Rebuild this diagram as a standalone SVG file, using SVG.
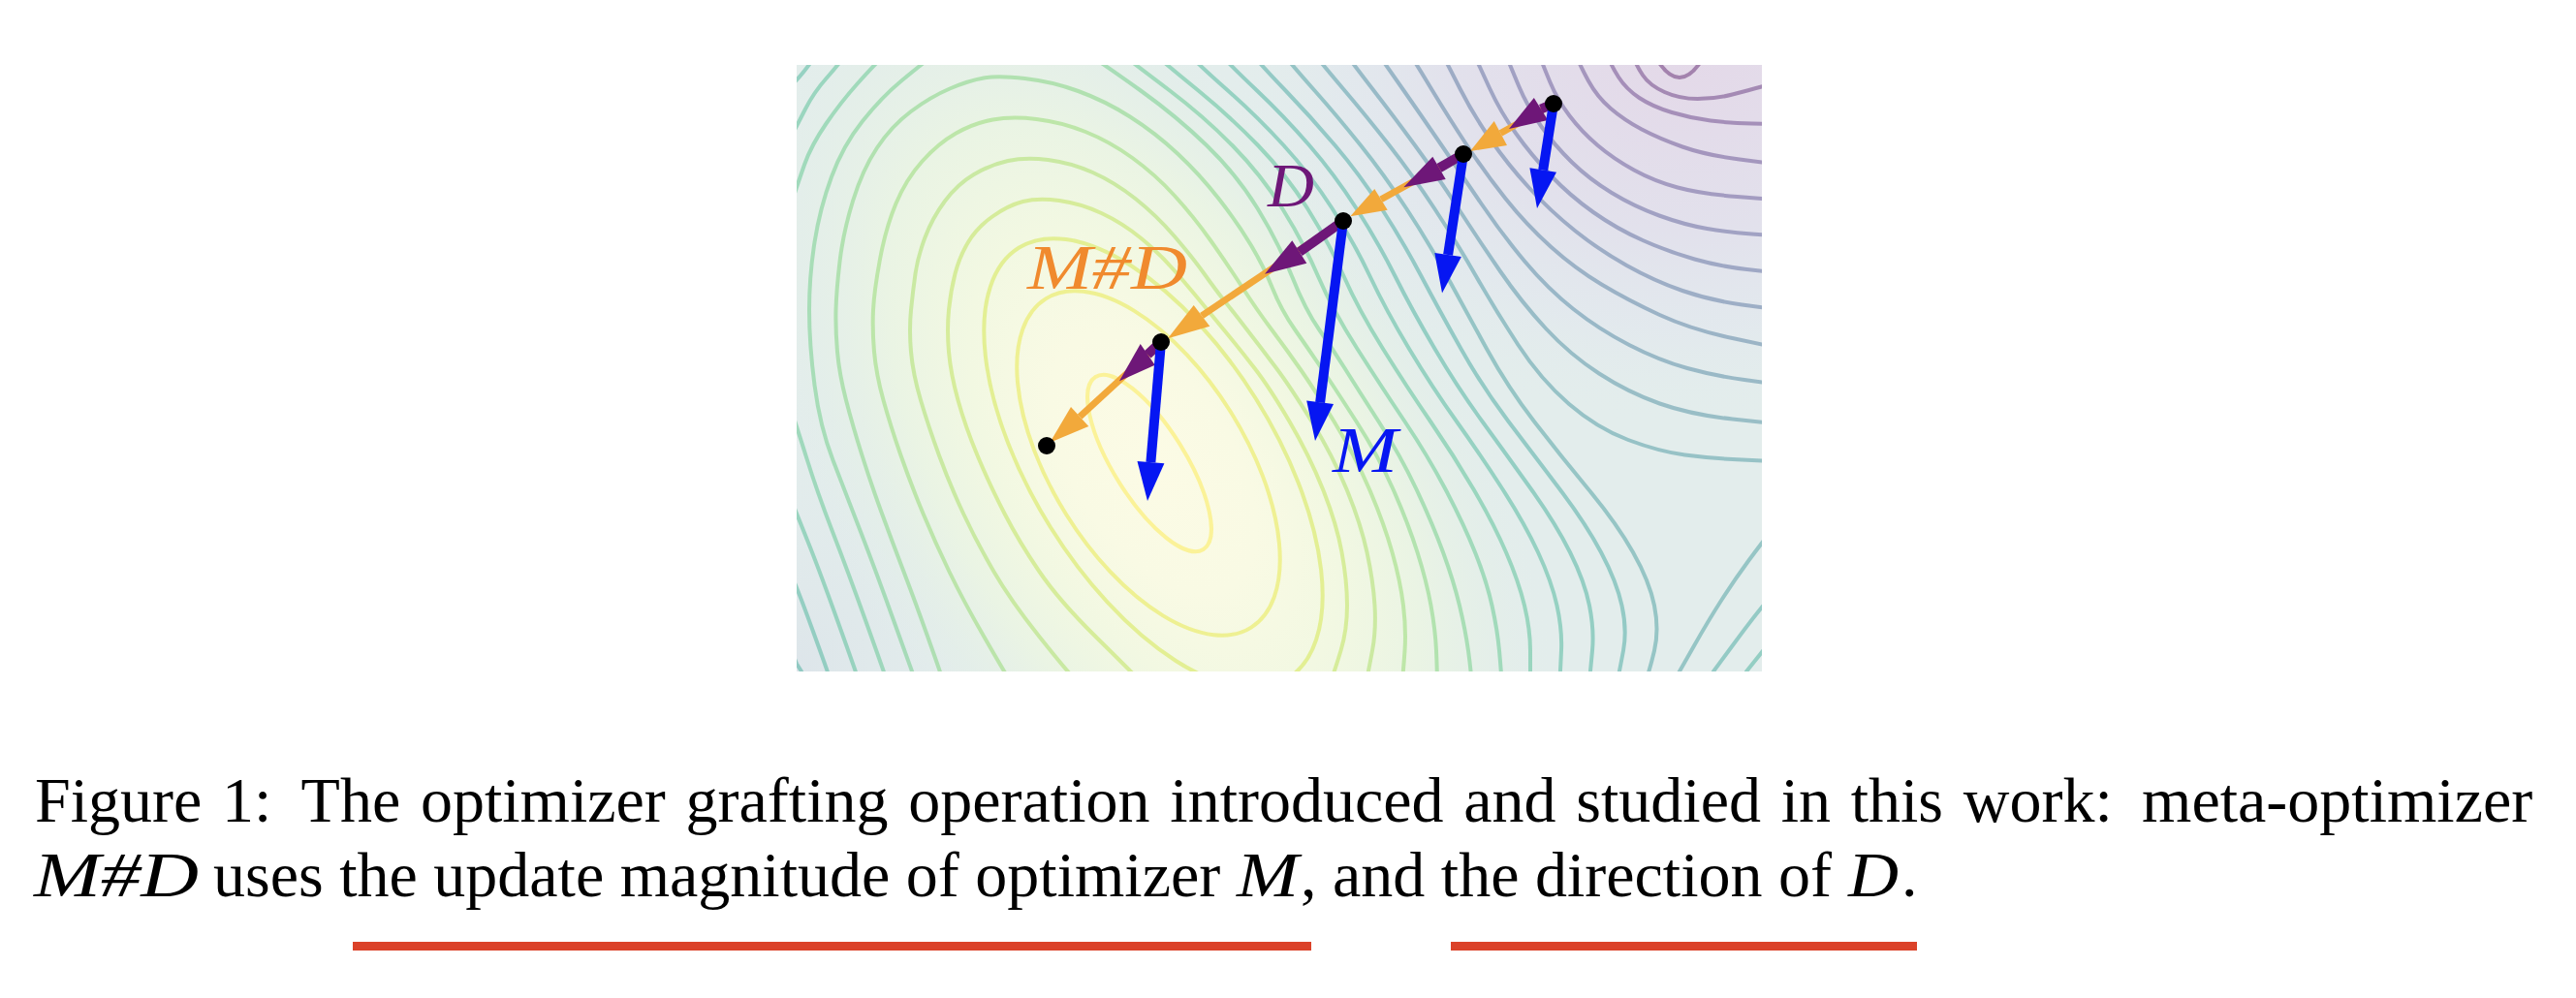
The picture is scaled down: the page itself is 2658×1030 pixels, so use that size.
<svg xmlns="http://www.w3.org/2000/svg" width="2658" height="1030" viewBox="0 0 2658 1030">
<style>
.cap{font-family:"Liberation Serif","Times New Roman",serif;font-size:66px;fill:#000}
.it{font-style:italic}
.c{fill:none;stroke-width:4;stroke-opacity:.4;stroke-linejoin:round;stroke-linecap:round}
.k1{stroke:#fde725}.k2{stroke:#e4e419}.k3{stroke:#cae11f}.k4{stroke:#b0dd2f}.k5{stroke:#95d840}.k6{stroke:#7ad151}.k7{stroke:#62ca5f}.k8{stroke:#4ec36b}.k9{stroke:#3bbb75}.k10{stroke:#2db27d}.k11{stroke:#22a884}.k12{stroke:#1fa088}.k13{stroke:#1f968b}.k14{stroke:#238a8d}.k15{stroke:#26828e}.k16{stroke:#2a788e}.k17{stroke:#2e6d8e}.k18{stroke:#33638d}.k19{stroke:#38598c}.k20{stroke:#3d4e8a}.k21{stroke:#414487}.k22{stroke:#453882}.k23{stroke:#472d7b}.k24{stroke:#481f70}.k25{stroke:#471164}.k26{stroke:#440154}
.dot{fill:#000}
.lbl{font-family:"Liberation Serif","Times New Roman",serif;font-style:italic}
</style>
<defs>
<clipPath id="pc"><rect x="822" y="67" width="996" height="626"/></clipPath>
<radialGradient id="gB" gradientUnits="userSpaceOnUse" cx="0" cy="0" r="1" gradientTransform="translate(1190,478) rotate(58) scale(600,330)">
<stop offset="0" stop-color="#fcfbe5"/>
<stop offset="0.25" stop-color="#f9fae4"/>
<stop offset="0.45" stop-color="#f2f8e2"/>
<stop offset="0.65" stop-color="#eaf4e4"/>
<stop offset="0.85" stop-color="#e4efe8" stop-opacity="0.6"/>
<stop offset="1" stop-color="#e3edec" stop-opacity="0"/>
</radialGradient>
<radialGradient id="gH" gradientUnits="userSpaceOnUse" cx="0" cy="0" r="1" gradientTransform="translate(1740,40) scale(480,400)">
<stop offset="0" stop-color="#e4d8e8"/>
<stop offset="0.25" stop-color="#e3dcea"/>
<stop offset="0.5" stop-color="#e2e1ec"/>
<stop offset="0.75" stop-color="#e2e7ee" stop-opacity="0.7"/>
<stop offset="1" stop-color="#e3edec" stop-opacity="0"/>
</radialGradient>
<radialGradient id="gL" gradientUnits="userSpaceOnUse" cx="0" cy="0" r="1" gradientTransform="translate(822,693) scale(260,300)">
<stop offset="0" stop-color="#dde5ea"/>
<stop offset="1" stop-color="#e3edec" stop-opacity="0"/>
</radialGradient>
</defs>
<rect width="2658" height="1030" fill="#fff"/>
<g id="plot">
<g clip-path="url(#pc)">
<rect x="822" y="67" width="996" height="626" fill="#e3edec"/>
<rect x="822" y="67" width="996" height="626" fill="url(#gL)"/>
<rect x="822" y="67" width="996" height="626" fill="url(#gB)"/>
<rect x="822" y="67" width="996" height="626" fill="url(#gH)"/>
<g id="contours">
<ellipse class="c k1" cx="1186" cy="478" rx="105" ry="37" transform="rotate(58 1186 478)"/>
<ellipse class="c k2" cx="1185" cy="478" rx="200" ry="100" transform="rotate(58 1185 478)"/>
<ellipse class="c k3" cx="1190" cy="478" rx="262" ry="125" transform="rotate(58 1190 478)"/>
<path class="c k4" d="M1185,712 L1176,702.5 Q1167,693 1130,656.5 Q1093,620 1072.5,590 Q1052,560 1036.5,530 Q1021,500 1008.5,470 Q996,440 988.5,413 Q981,386 979,363 Q977,340 979,320 Q981,300 985.5,282.5 Q990,265 999,250 Q1008,235 1024,223.5 Q1040,212 1055.5,208 Q1071,204 1093,207 Q1115,210 1136.5,220 Q1158,230 1177.5,246 Q1197,262 1212.5,280 Q1228,298 1237,309 Q1246,320 1262.5,340 Q1279,360 1294.5,380 Q1310,400 1330.5,435 Q1351,470 1365,505 Q1379,540 1384.5,570 Q1390,600 1390,625 Q1390,650 1383.5,671.5 Q1377,693 1370,712"/>
<path class="c k5" d="M1120,712 L1110.5,702.5 Q1101,693 1072,656.5 Q1043,620 1025.5,590 Q1008,560 994,530 Q980,500 969,470 Q958,440 950,413 Q942,386 940,363 Q938,340 940,320 Q942,300 944.5,282.5 Q947,265 954.5,245 Q962,225 975,207.5 Q988,190 1005,180 Q1022,170 1040,166 Q1058,162 1081.5,165 Q1105,168 1127.5,178 Q1150,188 1171.5,205 Q1193,222 1211.5,243.5 Q1230,265 1242.5,282.5 Q1255,300 1263,310 Q1271,320 1286.5,340 Q1302,360 1317,380 Q1332,400 1353.5,435 Q1375,470 1389.5,505 Q1404,540 1410.5,570 Q1417,600 1418.5,625 Q1420,650 1416,671.5 Q1412,693 1408,712"/>
<path class="c k6" d="M1048,712 L1042,702.5 Q1036,693 1015,656.5 Q994,620 979.5,590 Q965,560 952.5,530 Q940,500 929.5,470 Q919,440 911.5,413 Q904,386 902,363 Q900,340 901,320 Q902,300 908,267.5 Q914,235 924.5,210 Q935,185 951.5,166.5 Q968,148 986.5,137.5 Q1005,127 1024.5,123.5 Q1044,120 1069.5,123 Q1095,126 1120,136 Q1145,146 1168.5,163 Q1192,180 1212,202 Q1232,224 1249,248 Q1266,272 1281.5,296 Q1297,320 1312,340 Q1327,360 1341,380 Q1355,400 1376.5,435 Q1398,470 1413,505 Q1428,540 1436.5,570 Q1445,600 1448,625 Q1451,650 1449.5,671.5 Q1448,693 1446,712"/>
<path class="c k7" d="M976,712 L973,702.5 Q970,693 957,656.5 Q944,620 932.5,590 Q921,560 910,530 Q899,500 889.5,470 Q880,440 873,413 Q866,386 864,363 Q862,340 862.5,320 Q863,300 866.5,270 Q870,240 880,207.5 Q890,175 905,152.5 Q920,130 940,115 Q960,100 980,91.5 Q1000,83 1015,80.5 Q1030,78 1057.5,81 Q1085,84 1112.5,94 Q1140,104 1166,120.5 Q1192,137 1215,158.5 Q1238,180 1257.5,205 Q1277,230 1290.5,252.5 Q1304,275 1313,297.5 Q1322,320 1336,340 Q1350,360 1363.5,380 Q1377,400 1399.5,435 Q1422,470 1437.5,505 Q1453,540 1462.5,570 Q1472,600 1476.5,625 Q1481,650 1482,671.5 Q1483,693 1483,712"/>
<path class="c k8" d="M948,712 L944.5,702.5 Q941,693 922.5,641.5 Q904,590 888.5,550 Q873,510 859.5,475 Q846,440 840.5,397.5 Q835,355 835,320 Q835,285 840.5,250 Q846,215 858,182.5 Q870,150 890,125 Q910,100 930,83.5 Q950,67 962.5,57.5 L975,48"/>
<path class="c k8" d="M1110,48 L1125,57.5 Q1140,67 1177,93.5 Q1214,120 1245,150 Q1276,180 1297.5,215 Q1319,250 1333,285 Q1347,320 1361,340 Q1375,360 1387.5,380 Q1400,400 1422.5,435 Q1445,470 1461.5,505 Q1478,540 1489,570 Q1500,600 1506,625 Q1512,650 1515,671.5 Q1518,693 1519,712"/>
<path class="c k9" d="M925,45 L913.5,56 Q902,67 885,86 Q868,105 852.5,127.5 Q837,150 830,170 Q823,190 819,202.5 L815,215"/>
<path class="c k9" d="M812,410 L817,425 Q822,440 833,475 Q844,510 859.5,550 Q875,590 893.5,641.5 Q912,693 915,702.5 L918,712"/>
<path class="c k9" d="M1150,50 L1161,58.5 Q1172,67 1207,93.5 Q1242,120 1271.5,150 Q1301,180 1323,215 Q1345,250 1360,285 Q1375,320 1400.5,360 Q1426,400 1449.5,435 Q1473,470 1491.5,505 Q1510,540 1522,570 Q1534,600 1539.5,625 Q1545,650 1547,671.5 Q1549,693 1550,712"/>
<path class="c k10" d="M880,45 L872.5,56 Q865,67 852.5,81 Q840,95 831,112.5 Q822,130 812,150"/>
<path class="c k10" d="M812,505 L817,517.5 Q822,530 834,560 Q846,590 864.5,641.5 Q883,693 886,702.5 L889,712"/>
<path class="c k10" d="M1185,50 L1194.5,58.5 Q1204,67 1236.5,93.5 Q1269,120 1298,150 Q1327,180 1349,215 Q1371,250 1386.5,285 Q1402,320 1427,360 Q1452,400 1476,435 Q1500,470 1520.5,505 Q1541,540 1554,570 Q1567,600 1573,625 Q1579,650 1579,671.5 Q1579,693 1579,712"/>
<path class="c k11" d="M850,45 L842.5,56 Q835,67 828.5,75 Q822,83 810,95"/>
<path class="c k11" d="M810,580 L816,592.5 Q822,605 838,649 Q854,693 857,702.5 L860,712"/>
<path class="c k11" d="M1222,50 L1229.5,58.5 Q1237,67 1267,93.5 Q1297,120 1324.5,150 Q1352,180 1374.5,215 Q1397,250 1413.5,285 Q1430,320 1454,360 Q1478,400 1503,435 Q1528,470 1550.5,505 Q1573,540 1587,570 Q1601,600 1606.5,625 Q1612,650 1611,671.5 Q1610,693 1609,712"/>
<path class="c k12" d="M812,660 L822,685 L827,693 L833,712"/>
<path class="c k12" d="M1255,50 L1262,58.5 Q1269,67 1297,93.5 Q1325,120 1351,150 Q1377,180 1399.5,215 Q1422,250 1439.5,285 Q1457,320 1480.5,360 Q1504,400 1529.5,435 Q1555,470 1580,505 Q1605,540 1620,570 Q1635,600 1640,625 Q1645,650 1643,671.5 Q1641,693 1639,712"/>
<path class="c k12" d="M1792,712 L1802,693 L1830,658"/>
<path class="c k13" d="M1288,50 L1294.5,58.5 Q1301,67 1326.5,93.5 Q1352,120 1377.5,150 Q1403,180 1425.5,215 Q1448,250 1466.5,285 Q1485,320 1507.5,360 Q1530,400 1556.5,435 Q1583,470 1609.5,505 Q1636,540 1652,570 Q1668,600 1673.5,625 Q1679,650 1675,671.5 Q1671,693 1667,712"/>
<path class="c k13" d="M1756,712 L1768,693 L1787.5,666.5 Q1807,640 1818.5,626 L1830,612"/>
<path class="c k14" d="M1320,50 L1326.5,58.5 Q1333,67 1356.5,93.5 Q1380,120 1404,150 Q1428,180 1451,215 Q1474,250 1493,285 Q1512,320 1534,360 Q1556,400 1583,435 Q1610,470 1639,505 Q1668,540 1685,570 Q1702,600 1707,625 Q1712,650 1707,671.5 Q1702,693 1695,712"/>
<path class="c k14" d="M1722,712 L1727.5,702.5 Q1733,693 1748,666.5 Q1763,640 1776.5,619 Q1790,598 1804,579 Q1818,560 1830,545"/>
<path class="c k15" d="M1352,50 L1358.5,58.5 Q1365,67 1387.5,93.5 Q1410,120 1433.5,150 Q1457,180 1480,215 Q1503,250 1523,285 Q1543,320 1566.5,356 Q1590,392 1619,417 Q1648,442 1680,454 Q1712,466 1738.5,469.5 Q1765,473 1797.5,474.5 L1830,476"/>
<path class="c k16" d="M1385,50 L1391,58.5 Q1397,67 1417.5,93.5 Q1438,120 1460,150 Q1482,180 1504,214 Q1526,248 1548,280 Q1570,312 1595,339 Q1620,366 1650,385.5 Q1680,405 1712.5,416.5 Q1745,428 1787.5,432.5 L1830,437"/>
<path class="c k17" d="M1418,50 L1424,58.5 Q1430,67 1448.5,93.5 Q1467,120 1487.5,150 Q1508,180 1529,211 Q1550,242 1573.5,270 Q1597,298 1623.5,319 Q1650,340 1681,356 Q1712,372 1741,380 Q1770,388 1800,392 L1830,396"/>
<path class="c k18" d="M1451,50 L1456.5,58.5 Q1462,67 1478,93.5 Q1494,120 1513,149 Q1532,178 1553.5,205 Q1575,232 1600,254.5 Q1625,277 1652.5,293.5 Q1680,310 1712.5,325 Q1745,340 1787.5,349 L1830,358"/>
<path class="c k19" d="M1485,50 L1489.5,58.5 Q1494,67 1507,92.5 Q1520,118 1538,144 Q1556,170 1578,194 Q1600,218 1625,238 Q1650,258 1678.5,274 Q1707,290 1736,300 Q1765,310 1797.5,314.5 L1830,319"/>
<path class="c k20" d="M1518,50 L1522,58.5 Q1526,67 1537,91 Q1548,115 1564,137.5 Q1580,160 1600,181 Q1620,202 1644,219 Q1668,236 1695,248 Q1722,260 1748.5,267.5 Q1775,275 1802.5,278 L1830,281"/>
<path class="c k21" d="M1551,50 L1554.5,58.5 Q1558,67 1567,88.5 Q1576,110 1590,130 Q1604,150 1622,167.5 Q1640,185 1663,199 Q1686,213 1712,222.5 Q1738,232 1761.5,236 Q1785,240 1807.5,241.5 L1830,243"/>
<path class="c k22" d="M1586,50 L1589,58.5 Q1592,67 1599.5,85 Q1607,103 1619.5,119.5 Q1632,136 1648.5,150 Q1665,164 1686,175.5 Q1707,187 1731,193.5 Q1755,200 1792.5,203 L1830,206"/>
<path class="c k23" d="M1624,50 L1627,58.5 Q1630,67 1639,83.5 Q1648,100 1662,112 Q1676,124 1694,133.5 Q1712,143 1736,151.5 Q1760,160 1795,164.5 L1830,169"/>
<path class="c k24" d="M1657,50 L1659.5,58.5 Q1662,67 1670,79.5 Q1678,92 1691.5,101 Q1705,110 1725,116 Q1745,122 1765,124.5 Q1785,127 1807.5,127.5 L1830,128"/>
<path class="c k25" d="M1683,50 L1685.5,58.5 Q1688,67 1695,77.5 Q1702,88 1717.5,95 Q1733,102 1751.5,102 Q1770,102 1787.5,97.5 Q1805,93 1817.5,89.5 L1830,86"/>
<path class="c k26" d="M1706,55 Q1733,105 1760,55"/>
</g>
</g>
</g>
<g id="connectors">
<g id="arrows-MD" fill="#f2a93b" stroke="none">
<line x1="1603" y1="107" x2="1548.3" y2="137.5" stroke="#f2a93b" stroke-width="7"/>
<polygon points="1517,156 1541.7,125 1555,150"/>
<line x1="1510" y1="159" x2="1425" y2="205.8" stroke="#f2a93b" stroke-width="7"/>
<polygon points="1393.3,223.3 1418.3,195 1431.7,216.7"/>
<line x1="1386" y1="228" x2="1240" y2="325.8" stroke="#f2a93b" stroke-width="7"/>
<polygon points="1205,349.3 1231.7,315 1248.3,336.7"/>
<line x1="1198" y1="353" x2="1114.2" y2="430" stroke="#f2a93b" stroke-width="7"/>
<polygon points="1083.3,456.7 1105,420 1123.3,440"/>
</g>
<g id="arrows-D" fill="#6e1778" stroke="none">
<line x1="1603" y1="107" x2="1590" y2="112.5" stroke="#6e1778" stroke-width="10"/>
<polygon points="1557,133 1582.8,101 1597.2,124"/>
<line x1="1510" y1="159" x2="1485" y2="173.3" stroke="#6e1778" stroke-width="10"/>
<polygon points="1448.3,193.3 1478.3,161.7 1491.7,185"/>
<line x1="1386" y1="228" x2="1340.8" y2="260" stroke="#6e1778" stroke-width="10"/>
<polygon points="1305,282.7 1333.3,248.3 1348.3,271.7"/>
<line x1="1198" y1="353" x2="1184.2" y2="365.8" stroke="#6e1778" stroke-width="10"/>
<polygon points="1155,393.3 1176.7,355 1191.7,376.7"/>
</g>
<g id="arrows-M" fill="#0616f2" stroke="none">
<line x1="1603" y1="107" x2="1592.2" y2="175.5" stroke="#0616f2" stroke-width="10"/>
<polygon points="1586,215 1606,177.7 1578.4,173.3"/>
<line x1="1510" y1="159" x2="1494.1" y2="263" stroke="#0616f2" stroke-width="10"/>
<polygon points="1488,302.5 1507.9,265.1 1480.3,260.9"/>
<line x1="1386" y1="228" x2="1362.1" y2="415.3" stroke="#0616f2" stroke-width="10"/>
<polygon points="1357,455 1376,417.1 1348.2,413.5"/>
<line x1="1198" y1="353" x2="1187.4" y2="477.1" stroke="#0616f2" stroke-width="10"/>
<polygon points="1184,517 1201.4,478.3 1173.5,475.9"/>
</g>
</g>
<g id="points">
<circle class="dot" cx="1603" cy="107" r="9"/>
<circle class="dot" cx="1510" cy="159" r="9"/>
<circle class="dot" cx="1386" cy="228" r="9"/>
<circle class="dot" cx="1198" cy="353" r="9"/>
<circle class="dot" cx="1080" cy="460" r="9"/>
</g>
<g id="labels">
<text class="lbl" x="1308" y="213" font-size="64" fill="#6e1778" textLength="48" lengthAdjust="spacingAndGlyphs">D</text>
<text class="lbl" x="1060" y="298" font-size="66" fill="#f08a2e" textLength="165" lengthAdjust="spacingAndGlyphs">M#D</text>
<text class="lbl" x="1375" y="487" font-size="68" fill="#0616f2" textLength="67" lengthAdjust="spacingAndGlyphs">M</text>
</g>
<g id="caption" class="cap">
<text y="848"><tspan x="36">Figure</tspan><tspan x="229">1:</tspan><tspan x="310.6">The</tspan><tspan x="433.9">optimizer</tspan><tspan x="707.6">grafting</tspan><tspan x="937.3">operation</tspan><tspan x="1207.3">introduced</tspan><tspan x="1510.3">and</tspan><tspan x="1626.3">studied</tspan><tspan x="1837.7">in</tspan><tspan x="1909.7">this</tspan><tspan x="2025.8">work:</tspan><tspan x="2210.1">meta-optimizer</tspan></text>
<text y="925"><tspan x="35" class="it" textLength="170" lengthAdjust="spacingAndGlyphs">M#D</tspan><tspan x="220">uses the update magnitude of optimizer</tspan><tspan x="1276" class="it" textLength="64" lengthAdjust="spacingAndGlyphs">M</tspan><tspan x="1342">, and the direction of</tspan><tspan x="1907" class="it" textLength="52" lengthAdjust="spacingAndGlyphs">D</tspan><tspan x="1962">.</tspan></text>
</g>
<g id="underlines" fill="#db4229">
<rect x="364" y="972" width="989" height="9"/>
<rect x="1497" y="972" width="481" height="9"/>
</g>
</svg>
